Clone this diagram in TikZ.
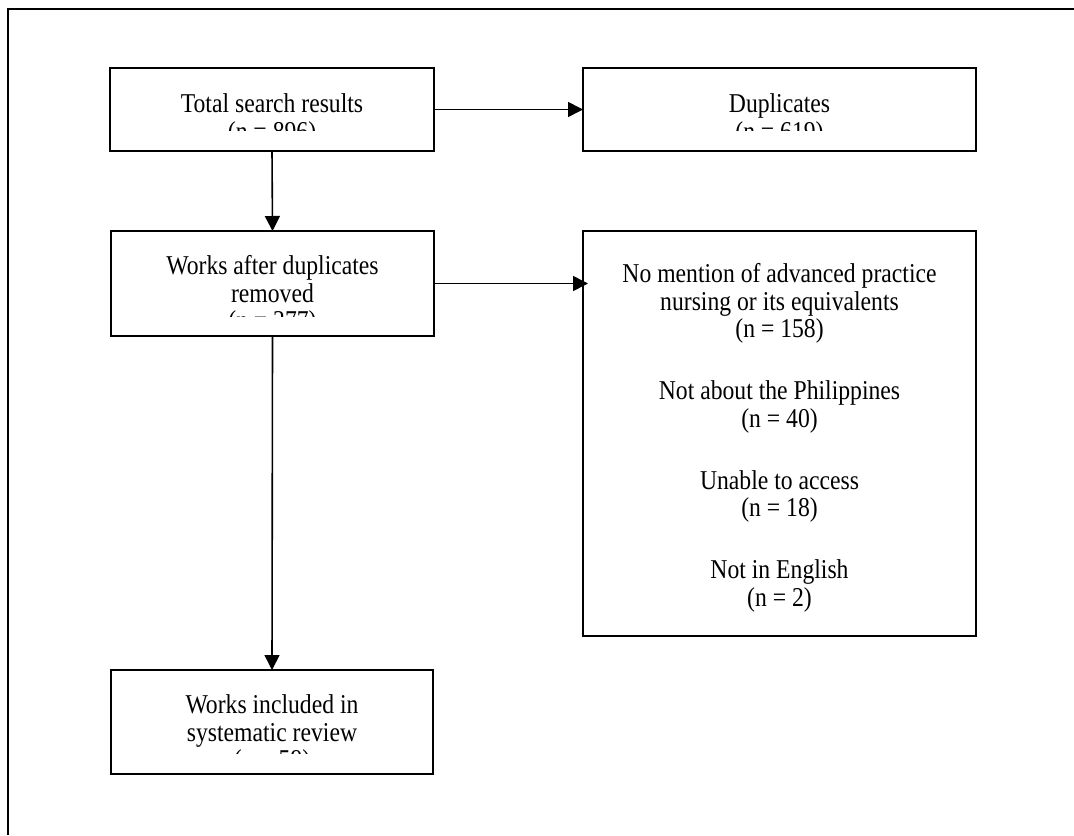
\documentclass[tikz,border=0pt]{standalone}
\usepackage{fontspec}
\setmainfont{Liberation Serif}[FakeStretch=0.87]
\usetikzlibrary{arrows.meta}

\begin{document}
\begin{tikzpicture}[x=0.5pt, y=-0.5pt,
    box/.style={draw, line width=0.9pt, inner sep=0pt, outer sep=0pt},
    txt/.style={font=\fontsize{13.6}{13.75}\selectfont, align=center, inner sep=0pt, anchor=north},
    arr/.style={line width=0.8pt, -{Triangle[length=7.5pt, width=7.5pt]}}]
    \useasboundingbox (0,0) rectangle (1074,835);
    \draw[line width=0.9pt] (8,835) -- (8,9) -- (1074,9);
    \node[box, minimum width=162pt, minimum height=41.5pt] (total) at (272,109.5) {};
    \node[box, minimum width=196.5pt, minimum height=41.5pt] (dupl) at (779.5,109.5) {};
    \node[box, minimum width=161.5pt, minimum height=52.5pt] (works) at (272.5,283.5) {};
    \node[box, minimum width=196.5pt, minimum height=202.5pt] (excl) at (779.5,433.5) {};
    \node[box, minimum width=161pt, minimum height=52pt] (incl) at (272,722) {};
    \begin{scope}
        \clip (110,68) rectangle (434,130);
        \node[txt] (total-t) at (272,93.4) {Total search results\\(n = 896)};
    \end{scope}
    \begin{scope}
        \clip (583,68) rectangle (976,130);
        \node[txt] (dupl-t) at (779.5,93.4) {Duplicates\\(n = 619)};
    \end{scope}
    \begin{scope}
        \clip (111,231) rectangle (434,316);
        \node[txt] (works-t) at (272.5,255.4) {Works after duplicates\\removed\\(n = 277)};
    \end{scope}
    \begin{scope}
        \clip (111,670) rectangle (433,753);
        \node[txt] (incl-t) at (272,694.4) {Works included in\\systematic review\\(n = 59)};
    \end{scope}
    \node[txt] (excl-t) at (779.5,263.4) {No mention of advanced practice\\nursing or its equivalents\\(n = 158)\\[17.25pt]
        Not about the Philippines\\(n = 40)\\[17.25pt]
        Unable to access\\(n = 18)\\[17.25pt]
        Not in English\\(n = 2)};
    \draw[arr] (total.east) -- (dupl.west);
    \draw[arr] (total.south) -- (works.north);
    \draw[arr, shorten >=-2.5pt] (works.east) -- (works.east -| excl.west);
    \draw[arr] (works.south) -- (incl.north);
\end{tikzpicture}
\end{document}
